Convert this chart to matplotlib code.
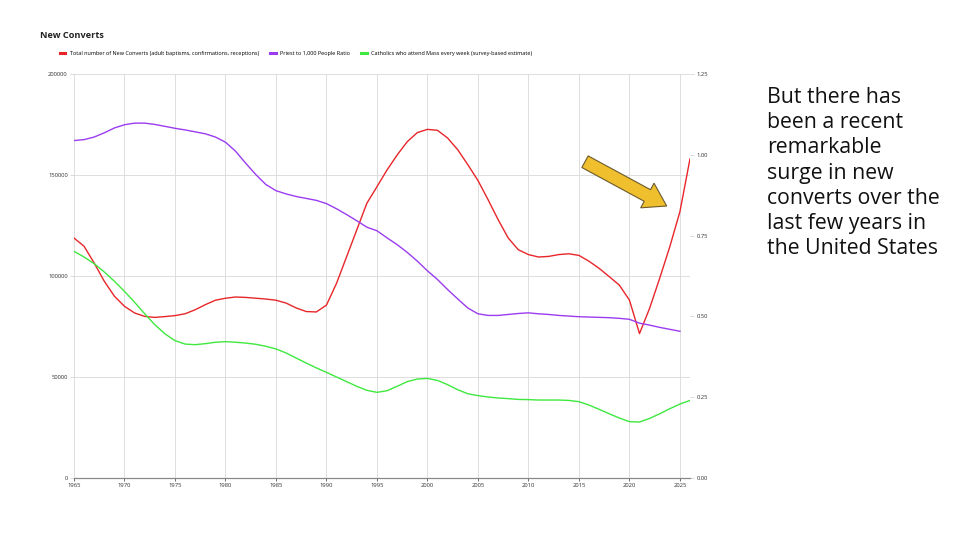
import matplotlib
matplotlib.use("Agg")
import matplotlib.pyplot as plt
from matplotlib.patches import Polygon
import numpy as np

years = list(range(1965, 2027))
years_priest = list(range(1965, 2026))

converts = [118800, 114700, 106400, 97400, 90000, 85000, 81700, 80000, 79500, 79900,
            80400, 81300, 83300, 85800, 88000, 89000, 89600, 89400, 89000, 88600,
            88000, 86600, 84200, 82400, 82200, 85600, 96400, 109600, 122800, 136000,
            144200, 152500, 159900, 166500, 171000, 172600, 172100, 168300, 162500, 155100,
            147300, 137800, 127900, 118800, 113000, 110600, 109400, 109700, 110600, 111000,
            110200, 107300, 103800, 99700, 95500, 88100, 71500, 84000, 98900, 114500,
            131800, 158000]

priest_ratio = [1.044, 1.047, 1.055, 1.068, 1.083, 1.093, 1.098, 1.098, 1.094, 1.088,
                1.082, 1.077, 1.071, 1.065, 1.055, 1.039, 1.011, 0.974, 0.939, 0.908,
                0.889, 0.879, 0.871, 0.865, 0.859, 0.849, 0.833, 0.815, 0.796, 0.776,
                0.765, 0.743, 0.722, 0.698, 0.671, 0.641, 0.614, 0.583, 0.554, 0.526,
                0.508, 0.503, 0.503, 0.506, 0.509, 0.511, 0.508, 0.506, 0.503, 0.501,
                0.499, 0.498, 0.497, 0.496, 0.494, 0.491, 0.479, 0.473, 0.466, 0.460,
                0.454]

mass_weekly = [112200, 109400, 106100, 102000, 97400, 92400, 87000, 81300, 75900, 71400,
               68000, 66300, 66000, 66500, 67200, 67500, 67200, 66800, 66200, 65200,
               63900, 61900, 59400, 56900, 54500, 52300, 50000, 47700, 45400, 43400,
               42400, 43200, 45400, 47700, 49000, 49300, 48300, 46200, 43700, 41700,
               40800, 40100, 39600, 39300, 38900, 38800, 38600, 38600, 38600, 38400,
               37800, 36100, 34000, 31800, 29700, 27900, 27700, 29500, 31800, 34300,
               36600, 38400]

x_ticks = list(range(1965, 2030, 5))
left_ticks = [0, 50000, 100000, 150000, 200000]
right_ticks = [0.00, 0.25, 0.50, 0.75, 1.00, 1.25]

labels = ["Total number of New Converts (adult baptisms, confirmations, receptions)",
          "Priest to 1,000 People Ratio",
          "Catholics who attend Mass every week (survey-based estimate)"]
colors = ["#e8262a", "#9b3cf0", "#3ee83e"]

plt.rcParams['font.family'] = ['Open Sans', 'DejaVu Sans']

W, H = 960, 540
fig = plt.figure(figsize=(9.6, 5.4), dpi=100)
fig.patch.set_facecolor("white")

ax = fig.add_axes([74 / W, 1 - 478 / H, (690 - 74) / W, (478 - 74) / H])
ax2 = ax.twinx()

l1, = ax.plot(years, converts, color=colors[0], lw=1.0, solid_joinstyle='round')
l3, = ax.plot(years, mass_weekly, color=colors[2], lw=1.0, solid_joinstyle='round')
l2, = ax2.plot(years_priest, priest_ratio, color=colors[1], lw=1.0, solid_joinstyle='round')

ax.set_xlim(1965, 2026)
ax.set_ylim(0, 200000)
ax2.set_ylim(0, 1.25)

ax.set_xticks(x_ticks)
ax.set_xticklabels([str(t) for t in x_ticks])
ax.set_yticks(left_ticks)
ax.set_yticklabels([str(t) for t in left_ticks])
ax2.set_yticks(right_ticks)
ax2.set_yticklabels(["%.2f" % t for t in right_ticks])

ax.grid(True, color="#dddddd", lw=0.7)
ax.set_axisbelow(True)
for a in (ax, ax2):
    for s in ("top", "left", "right"):
        a.spines[s].set_visible(False)
    a.spines["bottom"].set_color("#888888")
    a.spines["bottom"].set_linewidth(0.8)
ax.tick_params(axis='both', labelsize=4.2, colors="#333333", length=2, width=0.5, pad=1.5)
ax.tick_params(axis='y', length=3, color="#cccccc")
ax2.tick_params(axis='y', labelsize=4.2, colors="#333333", length=3, width=0.5, pad=2, color="#cccccc")

fig.text(40 / W, 1 - 36 / H, "New Converts", fontsize=6.6, fontweight='bold',
         va='center', ha='left', color="#222222")

fig.legend([l1, l2, l3], labels, loc='center', bbox_to_anchor=(296 / W, 1 - 53 / H),
           ncol=3, frameon=False, fontsize=4, handlelength=1.0, handletextpad=0.8,
           columnspacing=2.0, borderaxespad=0)
leg = fig.legends[0]
for h in leg.legend_handles:
    h.set_linewidth(2.2)

fig.text(767 / W, 1 - 87 / H,
         "But there has\nbeen a recent\nremarkable\nsurge in new\nconverts over the\nlast few years in\nthe United States",
         fontsize=15.3, va='top', ha='left', color="#111111", linespacing=1.265)

# annotation arrow (figure pixel geometry)
T = np.array([585.0, 161.7])
P = np.array([666.7, 206.0])
d = (P - T) / np.linalg.norm(P - T)
n = np.array([-d[1], d[0]])
hw_s, hw_h, hl = 6.6, 14.0, 22.0
B = P - d * hl
pts = [T + n * hw_s, B + n * hw_s, B + n * hw_h, P, B - n * hw_h, B - n * hw_s, T - n * hw_s]
pts = [(p[0] / W, 1 - p[1] / H) for p in pts]
fig.add_artist(Polygon(pts, closed=True, transform=fig.transFigure,
                       facecolor="#f0bf2e", edgecolor="#6b5a2a", lw=0.8))

fig.savefig("out.png", dpi=100, facecolor="white")
